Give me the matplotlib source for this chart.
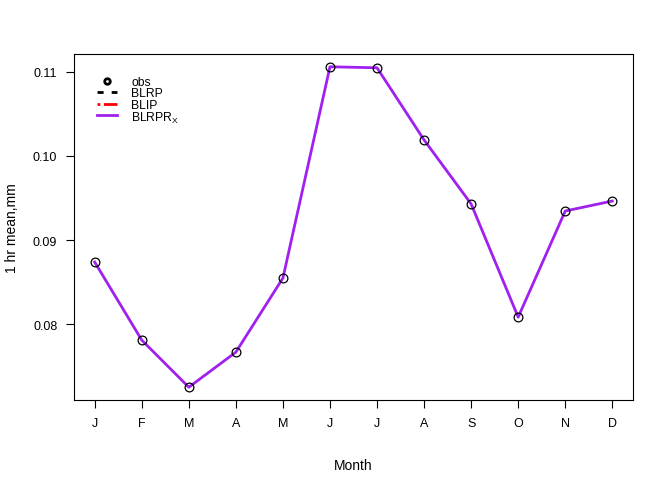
import matplotlib

matplotlib.use("Agg")
import matplotlib.pyplot as plt

plt.rcParams["font.family"] = ["Liberation Sans", "DejaVu Sans"]
plt.rcParams["mathtext.fontset"] = "custom"
plt.rcParams["mathtext.rm"] = "Liberation Sans"
plt.rcParams["mathtext.it"] = "Liberation Sans"

months = ["J", "F", "M", "A", "M", "J", "J", "A", "S", "O", "N", "D"]
obs = [0.08738, 0.07810, 0.07250, 0.07667, 0.08548, 0.11060,
       0.11048, 0.10190, 0.09429, 0.08083, 0.09345, 0.09464]
blrprx = [0.08738, 0.07810, 0.07250, 0.07667, 0.08548, 0.11060,
          0.11048, 0.10190, 0.09429, 0.08083, 0.09345, 0.09464]
yticks = [0.08, 0.09, 0.10, 0.11]
legend_labels = ["obs", "BLRP", "BLIP", r"BLRPR$_{\mathrm{X}}$"]

x = list(range(1, 13))

# Achsen-Box in Pixeln (links, rechts, oben, unten)
L, R, T, B = 74, 633, 55, 401
W, H = 654, 485

fig = plt.figure(figsize=(W / 100, H / 100), dpi=100, facecolor="white")
ax = fig.add_axes([L / W, 1 - B / H, (R - L) / W, (B - T) / H])

ax.plot(x, blrprx, color="#A020F0", linewidth=2, zorder=2)
ax.plot(x, obs, linestyle="none", marker="o", markersize=6.3,
        markerfacecolor="none", markeredgecolor="black", markeredgewidth=0.9, zorder=3)

ax.set_xlim(0.56, 12.44)
ax.set_ylim(0.07098, 0.11212)
ax.set_xticks(x)
ax.set_xticklabels(months)
ax.set_yticks(yticks)
ax.set_yticklabels([f"{v:.2f}" for v in yticks])
ax.tick_params(direction="out", length=6, width=0.8, labelsize=9, pad=6)
for s in ax.spines.values():
    s.set_linewidth(0.8)

ax.set_xlabel("Month", fontsize=10, labelpad=21)
ax.set_ylabel("1 hr mean,mm", fontsize=10, labelpad=10)


# Legende von Hand (R-Stil, ohne Rahmen)
def fx(px):
    return (px - L) / (R - L)


def fy(py):
    return 1 - (py - T) / (B - T)


styles = [
    dict(linestyle="none", marker="o", markersize=4, markerfacecolor="none",
         markeredgecolor="black", markeredgewidth=2),
    dict(color="black", linestyle=(0, (2.2, 2.9)), linewidth=2),
    dict(color="red", linestyle=(0, (1, 1.3, 5, 1.3)), linewidth=2),
    dict(color="#A020F0", linewidth=2),
]
for i, (lab, st) in enumerate(zip(legend_labels, styles)):
    yy = fy(81.5 + i * 11.5)
    if st.get("marker"):
        ax.plot([fx(107)], [yy], transform=ax.transAxes, clip_on=False, **st)
    else:
        ax.plot([fx(97), fx(117)], [yy, yy], transform=ax.transAxes,
                clip_on=False, **st)
    ax.text(fx(131), yy, lab, transform=ax.transAxes, fontsize=8.7,
            va="center_baseline", ha="left")

fig.savefig("out.png", dpi=100, facecolor="white")
